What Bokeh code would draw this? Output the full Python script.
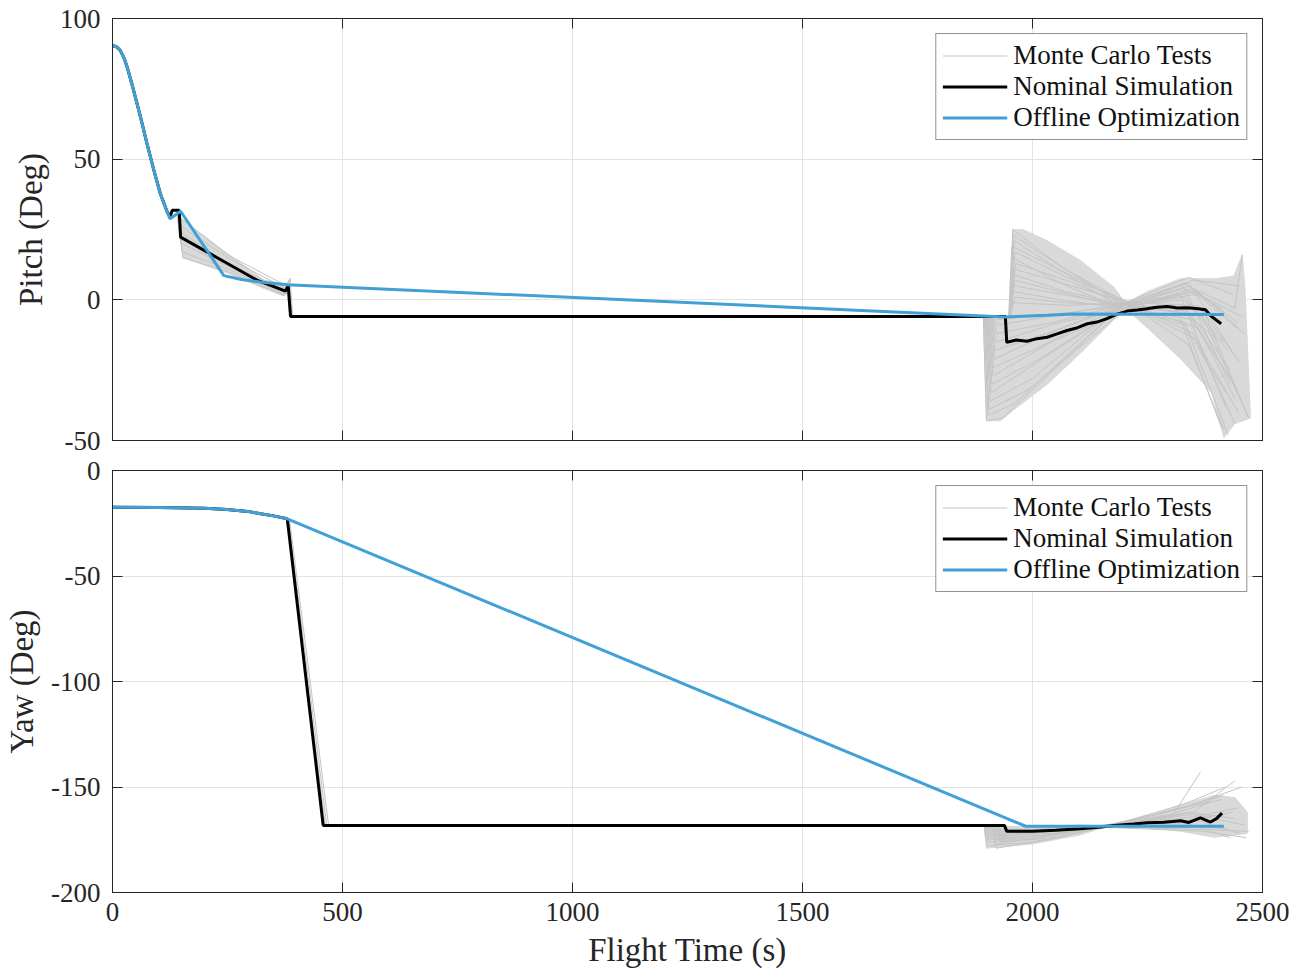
from bokeh.plotting import figure
from bokeh.models import Range1d, FixedTicker, LinearAxis
from bokeh.layouts import column
from bokeh.embed import file_html
from bokeh.resources import INLINE

# ---------------- data ----------------
x_ticks = [0, 500, 1000, 1500, 2000, 2500]
pitch_ticks = [-50, 0, 50, 100]
yaw_ticks = [-200, -150, -100, -50, 0]

# Offline optimization (blue)
pitch_opt_t = [0, 10, 17, 25, 32, 46, 61, 75, 90, 104, 119, 125, 135, 148, 242, 280, 322, 380, 1941, 2032, 2090, 2416]
pitch_opt_v = [90.4, 89.8, 88.6, 86.0, 82.7, 74.4, 64.9, 55.5, 46.0, 37.7, 31.2, 28.8, 30.0, 31.5, 8.6, 7.2, 6.3, 5.4, -6.1, -5.5, -5.0, -5.2]

# Nominal simulation (black)
pitch_nom_t = [0, 10, 17, 25, 32, 46, 61, 75, 90, 104, 119, 125, 130, 145, 148, 200, 249, 314, 376, 382, 387,
               1941, 1944, 1965, 1988, 2010, 2032, 2055, 2075, 2098, 2119, 2140, 2162, 2185, 2206, 2228, 2249,
               2270, 2293, 2315, 2336, 2356, 2376, 2387, 2410]
pitch_nom_v = [90.4, 89.8, 88.6, 86.0, 82.7, 74.4, 64.9, 55.5, 46.0, 37.7, 31.2, 29.5, 31.8, 31.8, 22.3, 17.5, 13.0, 7.0, 3.1, 5.1, -5.9,
               -5.9, -15.1, -14.3, -14.7, -13.8, -13.3, -12.0, -10.9, -9.9, -8.5, -7.9, -6.7, -5.0, -4.0, -3.6, -3.2,
               -2.6, -2.4, -2.9, -2.8, -3.1, -3.5, -5.6, -8.5]

# Monte Carlo tests, pitch (gray): individual traces
pitch_mc_t = [
    [140, 148, 250, 378, 386, 392], [140, 150, 250, 376, 384, 390], [140, 149, 250, 375, 383, 389],
    [140, 151, 250, 374, 382, 388], [140, 152, 250, 373, 381, 387], [140, 153, 250, 372, 380, 386],
    [1950, 1957, 2060, 2200, 2330, 2430], [1951, 1958, 2070, 2205, 2340, 2440], [1952, 1960, 2065, 2195, 2320, 2420],
    [1948, 1955, 2080, 2210, 2350, 2450], [1950, 1962, 2075, 2215, 2360, 2460], [1949, 1956, 2060, 2190, 2310, 2410],
    [1953, 1963, 2090, 2200, 2340, 2445], [1950, 1959, 2085, 2210, 2370, 2470], [1951, 1958, 2070, 2205, 2330, 2425],
    [1949, 1961, 2080, 2200, 2350, 2440, 2456], [1952, 1960, 2095, 2215, 2360, 2440], [1950, 1957, 2060, 2195, 2340, 2430],
    [1951, 1962, 2070, 2210, 2330, 2415], [1948, 1955, 2080, 2200, 2355, 2448],
    [1893, 1900, 1935, 2195, 2330, 2420], [1895, 1903, 1960, 2200, 2340, 2435], [1897, 1905, 1990, 2205, 2350, 2445],
    [1899, 1908, 2000, 2190, 2320, 2410], [1900, 1910, 2030, 2210, 2360, 2450], [1902, 1912, 2015, 2200, 2340, 2430],
    [1904, 1914, 2040, 2215, 2330, 2420], [1906, 1915, 2025, 2195, 2370, 2470], [1908, 1917, 2050, 2205, 2350, 2440],
    [1910, 1918, 2030, 2200, 2330, 2425], [1912, 1920, 2060, 2210, 2345, 2438], [1914, 1922, 2045, 2190, 2360, 2455],
    [1916, 1924, 2070, 2205, 2340, 2415], [1918, 1926, 2055, 2200, 2320, 2400],
]
pitch_mc_v = [
    [31, 29, 16, 5, 7.6, -6], [31, 26, 15, 4, 6, -6], [31, 24, 13, 3.5, 5, -6],
    [31, 20, 12, 2.5, 4, -6], [31, 17, 11, 2, 3, -6], [31, 15, 10, 1.5, 2.5, -6],
    [-6, 25, 12, -2, 4, -30], [-6, 23, 11, -1, 6, -20], [-6, 21, 10, -3, 2, -38],
    [-6, 19, 9, -2, 7, 5], [-6, 17, 8, -1, 3, -12], [-6, 15, 6, -3, -2, -45],
    [-6, 13, 6, -2, 5, -8], [-6, 11, 5, -1, -6, -42], [-6, 9, 3, -2, -8, -48],
    [-6, 7, 2, -3, 4, -3, 16], [-6, 5, 1, -2, -10, -35], [-6, 3, 0, -3, -4, -25],
    [-6, 1, -1, -2, 1, -15], [-6, -1, -2, -1, -14, -40],
    [-6, -43, -42, -2, 6, -5], [-6, -41, -37, -1, 8, 2], [-6, -39, -32, -3, 3, -10],
    [-6, -36, -28, -2, 5, -3], [-6, -33, -20, -1, -2, -22], [-6, -30, -21, -2, -5, -28],
    [-6, -27, -15, -3, -9, -33], [-6, -24, -16, -2, -3, -42], [-6, -21, -11, -1, -12, -44],
    [-6, -18, -12, -2, 0, -18], [-6, -15, -8, -3, -7, -30], [-6, -12, -8, -2, 2, -6],
    [-6, -9, -5, -1, -16, -46], [-6, -7, -5, -2, -3, -14],
]
# Monte Carlo envelope (dense region), pitch
pitch_env_t = [
    [148, 153, 250, 330, 372, 384, 386, 378, 330, 250],
    [1893, 1900, 1930, 1960, 2032, 2104, 2177, 2206, 2177, 2104, 2032, 1979, 1957, 1955],
    [2195, 2250, 2322, 2400, 2438, 2456, 2462, 2474, 2440, 2416, 2390, 2322, 2250],
]
pitch_env_v = [
    [29, 15, 9.5, 4, 1.5, 2.5, 7.6, 5.5, 7, 16.5],
    [-6, -43, -43, -39, -30, -19, -7, -2, 4.5, 14, 21, 25, 25, -6],
    [-2, 3, 7.5, 7.5, 8.5, 16, 4, -42, -44, -49, -33, -21, -10],
]

yaw_opt_t = [0, 100, 200, 249, 300, 322, 350, 380, 1985, 2416]
yaw_opt_v = [-17.4, -17.5, -17.9, -18.5, -19.6, -20.5, -21.5, -22.9, -168.6, -168.6]

yaw_nom_t = [0, 100, 200, 249, 300, 322, 350, 380, 458, 1939, 1944, 2000, 2050, 2104, 2150, 2177, 2220, 2250,
             2286, 2322, 2340, 2365, 2387, 2400, 2412]
yaw_nom_v = [-17.4, -17.5, -17.9, -18.5, -19.6, -20.5, -21.5, -22.9, -168.2, -168.2, -171.0, -171.0, -170.5, -169.8,
             -169.0, -168.2, -167.5, -167.0, -166.7, -166.0, -166.8, -164.6, -166.6, -165.0, -162.4]

yaw_mc_t = [
    [378, 463], [382, 466], [385, 470], [380, 461],
    [1895, 1900, 2000, 2160, 2330, 2420], [1897, 1903, 2010, 2165, 2320, 2410], [1899, 1905, 2020, 2155, 2340, 2440],
    [1901, 1908, 2005, 2160, 2350, 2460], [1903, 1910, 2030, 2170, 2300, 2365], [1905, 1912, 2015, 2150, 2360, 2450],
    [1907, 1915, 2040, 2165, 2330, 2430], [1909, 1917, 2025, 2160, 2345, 2470], [1911, 1919, 2050, 2170, 2310, 2415],
    [1913, 1921, 2035, 2155, 2355, 2445], [1915, 1923, 2060, 2165, 2325, 2425], [1917, 1925, 2045, 2160, 2340, 2455],
    [1919, 1927, 2020, 2170, 2335, 2435], [1921, 1929, 2055, 2150, 2370, 2465], [1923, 1931, 2030, 2160, 2300, 2390],
    [1925, 1933, 2065, 2165, 2350, 2440],
]
yaw_mc_v = [
    [-22.5, -168.5], [-23.0, -168.5], [-23.5, -168.5], [-22.8, -168.3],
    [-168.5, -178, -176, -169, -158, -150], [-168.5, -176, -174, -168, -160, -156], [-168.5, -175, -173, -169, -162, -165],
    [-168.5, -174, -172, -168, -163, -168], [-168.5, -173, -171, -168, -165, -143], [-168.5, -172, -171, -169, -166, -172],
    [-168.5, -171, -170, -168, -167, -174], [-168.5, -170, -170, -169, -170, -171], [-168.5, -177, -173, -168, -161, -154],
    [-168.5, -179, -175, -169, -164, -160], [-168.5, -175, -172, -168, -168, -170], [-168.5, -173, -172, -169, -159, -150],
    [-168.5, -171, -171, -168, -166, -162], [-168.5, -176, -174, -169, -171, -174], [-168.5, -174, -173, -168, -163, -157],
    [-168.5, -172, -171, -169, -162, -147],
]
yaw_env_t = [
    [1895, 1900, 2000, 2104, 2162, 2104, 2000, 1935],
    [2162, 2249, 2322, 2394, 2440, 2467, 2467, 2394, 2322, 2249],
]
yaw_env_v = [
    [-168.5, -179, -177, -172.7, -168.6, -168, -169, -168.5],
    [-168.6, -164.3, -158.5, -154, -155, -162, -172, -173.8, -171, -169],
]

# ---------------- styling ----------------
FONT = "Liberation Serif"
DARK = "#262626"
GRID = "#E3E3E3"
MC_COLOR = "#C4C4C4"
ENV_COLOR = "#D9D9D9"
NOM_COLOR = "#000000"
OPT_COLOR = "#41A0D6"


def style_axis(ax, ticks, show_labels, standoff=7, font_size="27px"):
    ax.ticker = FixedTicker(ticks=ticks)
    ax.axis_line_color = DARK
    ax.axis_line_width = 1
    ax.major_tick_line_color = DARK
    ax.major_tick_in = 10
    ax.major_tick_out = 0
    ax.minor_tick_line_color = None
    ax.major_label_text_font = FONT
    ax.major_label_overrides = {t: str(t) for t in ticks}
    ax.axis_label_text_font = FONT
    ax.axis_label_text_font_style = "normal"
    ax.axis_label_text_font_size = "33px"
    ax.axis_label_text_color = DARK
    if show_labels:
        ax.major_label_text_color = DARK
        ax.major_label_text_font_size = font_size
        ax.major_label_standoff = standoff
    else:
        ax.major_label_text_color = None
        ax.major_label_text_font_size = "1px"
        ax.major_label_standoff = 0


def make_panel(ylabel, yr, yticks, height, top, bottom, show_x,
               env_t, env_v, mc_t, mc_v, nom_t, nom_v, opt_t, opt_v):
    p = figure(width=1292, height=height, output_backend="svg", toolbar_location=None,
               x_range=Range1d(0, 2500), y_range=Range1d(*yr),
               min_border_left=112, min_border_right=30, min_border_top=top, min_border_bottom=bottom,
               x_axis_label="Flight Time (s)" if show_x else None, y_axis_label=ylabel)
    p.outline_line_color = DARK
    p.background_fill_color = "white"
    p.border_fill_color = "white"
    style_axis(p.xaxis[0], x_ticks, show_x, standoff=10)
    style_axis(p.yaxis[0], yticks, True, standoff=12)
    p.yaxis[0].axis_label_standoff = 8
    p.xaxis[0].axis_label_standoff = 8
    for loc, ticks in (("right", yticks), ("above", x_ticks)):
        ax = LinearAxis()
        style_axis(ax, ticks, False)
        p.add_layout(ax, loc)
    p.xgrid.ticker = FixedTicker(ticks=x_ticks)
    p.ygrid.ticker = FixedTicker(ticks=yticks)
    for g in (p.xgrid[0], p.ygrid[0]):
        g.grid_line_color = GRID
        g.grid_line_width = 1

    p.patches(env_t, env_v, fill_color=ENV_COLOR, line_color=ENV_COLOR, line_width=1)
    p.multi_line(mc_t, mc_v, line_color=MC_COLOR, line_width=1, legend_label="Monte Carlo Tests")
    p.line(nom_t, nom_v, line_color=NOM_COLOR, line_width=3, legend_label="Nominal Simulation")
    p.line(opt_t, opt_v, line_color=OPT_COLOR, line_width=3, legend_label="Offline Optimization")

    lg = p.legend[0]
    lg.location = "top_right"
    lg.margin = 15
    lg.padding = 6
    lg.spacing = 0
    lg.label_text_font = FONT
    lg.label_text_font_size = "27px"
    lg.label_text_color = "#111111"
    lg.label_height = 31
    lg.glyph_height = 31
    lg.glyph_width = 65
    lg.label_standoff = 6
    lg.border_line_color = DARK
    lg.border_line_width = 1
    lg.background_fill_alpha = 1
    return p


p1 = make_panel("Pitch (Deg)", (-50, 100), pitch_ticks, 454, 18, 14, False,
                pitch_env_t, pitch_env_v, pitch_mc_t, pitch_mc_v,
                pitch_nom_t, pitch_nom_v, pitch_opt_t, pitch_opt_v)
p2 = make_panel("Yaw (Deg)", (-200, 0), yaw_ticks, 524, 16, 86, True,
                yaw_env_t, yaw_env_v, yaw_mc_t, yaw_mc_v,
                yaw_nom_t, yaw_nom_v, yaw_opt_t, yaw_opt_v)

layout = column(p1, p2, spacing=0)
open("out.html", "w").write(file_html(layout, INLINE))
